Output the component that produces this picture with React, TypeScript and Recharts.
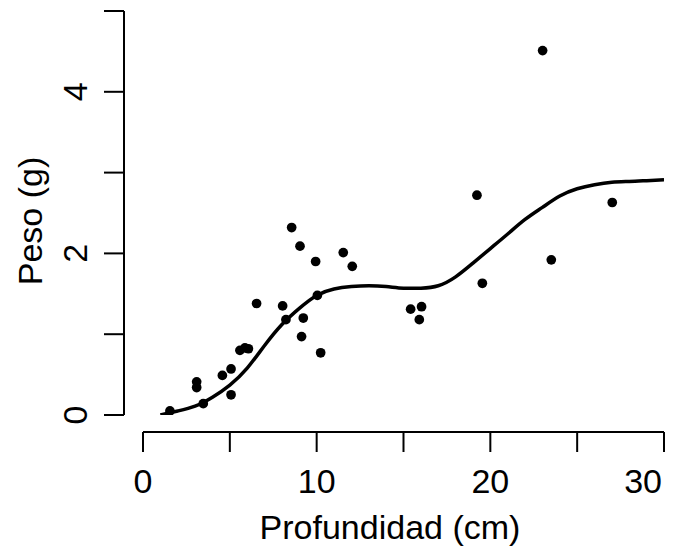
import React from 'react';
import {
  ComposedChart,
  Scatter,
  Line,
  XAxis,
  YAxis,
  ZAxis,
  ReferenceLine,
  Label,
} from 'recharts';

// observed points
const profundidad = [
  1.55, 3.09, 3.09, 3.47, 4.57, 5.07, 5.07, 5.58, 5.87, 6.07, 6.54, 8.04, 8.23,
  8.56, 9.04, 9.23, 9.13, 9.94, 10.04, 10.23, 11.53, 12.05, 15.41, 16.04, 15.91,
  19.23, 19.54, 23.01, 23.51, 27.02,
];
const peso = [
  0.05, 0.41, 0.34, 0.14, 0.49, 0.57, 0.25, 0.8, 0.83, 0.82, 1.38, 1.35, 1.18,
  2.32, 2.09, 1.2, 0.97, 1.9, 1.48, 0.77, 2.01, 1.84, 1.31, 1.34, 1.18, 2.72,
  1.63, 4.51, 1.92, 2.63,
];

// fitted curve
const curveX = [
  1, 2, 3, 4, 5, 6, 7, 8, 9, 10, 11, 12, 13, 14, 15, 16, 17, 18, 19, 20, 21, 22,
  23, 24, 25, 26, 27, 28, 29, 30,
];
const curveY = [
  0.0, 0.05, 0.11, 0.22, 0.37, 0.58, 0.86, 1.12, 1.32, 1.48, 1.56, 1.59, 1.6,
  1.59, 1.57, 1.57, 1.6, 1.71, 1.88, 2.06, 2.24, 2.42, 2.57, 2.71, 2.8, 2.85,
  2.88, 2.89, 2.9, 2.91,
];

const xTicks = [0, 5, 10, 15, 20, 25, 30];
const xLabels = [0, 10, 20, 30];
const yTicks = [0, 1, 2, 3, 4, 5];
const yLabels = [0, 2, 4];

const points = profundidad.map((x, i) => ({ x, y: peso[i] }));
const curve = curveX.map((x, i) => ({ x, y: curveY[i] }));

const FONT = '"Liberation Sans", Arial, sans-serif';
const FS = 34;

function XTick({ x, y, payload }: any) {
  const v = payload.value;
  const last = v === xTicks[xTicks.length - 1];
  return (
    <g>
      <line x1={x} x2={x} y1={y + 17} y2={y + 37} stroke="#000" strokeWidth={2} />
      {xLabels.includes(v) && (
        <text
          x={last ? x - 2 : x}
          y={y + 78}
          textAnchor={last ? 'end' : 'middle'}
          fontSize={FS}
          fontFamily={FONT}
          fill="#000"
        >
          {v}
        </text>
      )}
    </g>
  );
}

function YTick({ x, y, payload }: any) {
  const v = payload.value;
  const bx = x - 56;
  return (
    <g>
      <line x1={x - 19} x2={x - 39} y1={y} y2={y} stroke="#000" strokeWidth={2} />
      {yLabels.includes(v) && (
        <text
          x={bx}
          y={y}
          transform={`rotate(-90, ${bx}, ${y})`}
          textAnchor="middle"
          fontSize={FS}
          fontFamily={FONT}
          fill="#000"
        >
          {v}
        </text>
      )}
    </g>
  );
}

export default function App() {
  return (
    <div style={{ width: 681, height: 550, background: '#fff' }}>
      <style>{'body{margin:0}'}</style>
      <ComposedChart
        width={681}
        height={550}
        margin={{ top: 11, right: 17, bottom: 0, left: 0 }}
      >
        <XAxis
          type="number"
          dataKey="x"
          domain={[0, 30]}
          ticks={xTicks}
          interval={0}
          allowDataOverflow
          axisLine={false}
          tickLine={false}
          tickSize={0}
          tickMargin={0}
          height={135}
          tick={<XTick />}
        >
          <Label
            content={() => (
              <text x={390} y={539} textAnchor="middle" fontSize={FS} fontFamily={FONT} fill="#000">
                Profundidad (cm)
              </text>
            )}
          />
        </XAxis>
        <YAxis
          type="number"
          dataKey="y"
          domain={[0, 5]}
          ticks={yTicks}
          interval={0}
          allowDataOverflow
          axisLine={false}
          tickLine={false}
          tickSize={0}
          tickMargin={0}
          width={143}
          tick={<YTick />}
        >
          <Label
            content={() => (
              <text
                x={42}
                y={221}
                transform="rotate(-90, 42, 221)"
                textAnchor="middle"
                fontSize={FS}
                fontFamily={FONT}
                fill="#000"
              >
                Peso (g)
              </text>
            )}
          />
        </YAxis>
        <ZAxis range={[74, 74]} />
        <ReferenceLine
          segment={[
            { x: 0, y: -0.21 },
            { x: 30, y: -0.21 },
          ]}
          ifOverflow="visible"
          stroke="#000"
          strokeWidth={2}
        />
        <ReferenceLine
          segment={[
            { x: -1.094, y: 0 },
            { x: -1.094, y: 5 },
          ]}
          ifOverflow="visible"
          stroke="#000"
          strokeWidth={2}
        />
        <Line
          data={curve}
          dataKey="y"
          type="natural"
          stroke="#000"
          strokeWidth={3.5}
          dot={false}
          activeDot={false}
          isAnimationActive={false}
        />
        <Scatter data={points} dataKey="y" fill="#000" isAnimationActive={false} />
      </ComposedChart>
    </div>
  );
}
